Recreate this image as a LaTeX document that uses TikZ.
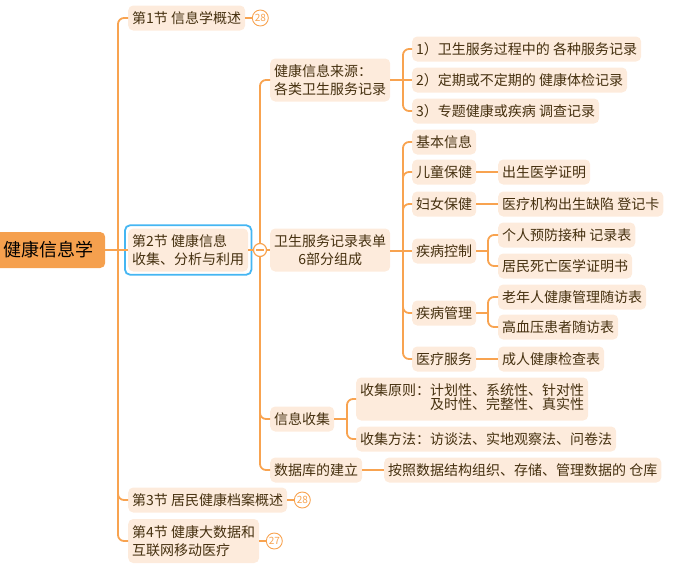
\documentclass[tikz,border=0pt]{standalone}
\usepackage{fontspec}
\setmainfont{Noto Sans CJK SC}
\usetikzlibrary{calc}
\definecolor{ln}{HTML}{F8A350}
\definecolor{pf}{HTML}{FDEBDC}
\definecolor{rt}{HTML}{F5A04E}
\definecolor{tx}{HTML}{45300F}
\definecolor{bl}{HTML}{45B6F2}
\tikzset{
 box/.style={fill=pf, rounded corners=5pt, anchor=west, inner xsep=4pt, inner ysep=0pt, minimum height=25pt, text=tx, font=\fontsize{14}{17.5}\selectfont},
 two/.style={box, minimum height=43pt, align=left},
 rootbox/.style={fill=rt, rounded corners=5pt, anchor=west, inner xsep=0pt, inner ysep=0pt, minimum height=36pt, text width=111pt, align=left, text=black, font=\fontsize{18}{20}\selectfont},
 conn/.style={draw=ln, line width=1.8pt},
 elbow/.style={conn, rounded corners=6pt},
 badge/.style={circle, draw=ln, fill=white, line width=0.9pt, minimum size=16pt, inner sep=0pt, text=ln, font=\fontsize{10}{10}\selectfont},
 fold/.style={circle, draw=ln, fill=white, line width=1.2pt, minimum size=13pt, inner sep=0pt},
}
\begin{document}
\begin{tikzpicture}[x=1pt,y=-1pt]
\useasboundingbox (0,0) rectangle (687,573);
% root
\node[rootbox] (root) at (-6,250) {\hspace{9pt}健康信息学};
% level 1
\node[box] (n1) at (128,18) {第1节 信息学概述};
\node[two] (n2) at (128,250) {第2节 健康信息\\收集、分析与利用};
\node[box] (n3) at (128,500) {第3节 居民健康档案概述};
\node[two, minimum height=44pt] (n4) at (128,541) {第4节 健康大数据和\\互联网移动医疗};
\draw[bl, line width=1.8pt, rounded corners=5pt] ($(n2.north west)+(-3,-3)$) rectangle ($(n2.south east)+(3,3)$);
% level 2
\node[two, minimum width=119pt] (a1) at (270,80) {健康信息来源：\\各类卫生服务记录};
\node[two, minimum width=119pt, align=center] (a2) at (270,250) {卫生服务记录表单\\6部分组成};
\node[box] (a3) at (270,419) {信息收集};
\node[box] (a4) at (270,470) {数据库的建立};
% level 3 (sources)
\node[box] (b1) at (412,49) {1）卫生服务过程中的 各种服务记录};
\node[box] (b2) at (412,80) {2）定期或不定期的 健康体检记录};
\node[box] (b3) at (412,111) {3）专题健康或疾病 调查记录};
% level 3 (forms)
\node[box] (c1) at (412,142) {基本信息};
\node[box] (c2) at (412,172) {儿童保健};
\node[box] (c3) at (412,204) {妇女保健};
\node[box] (c4) at (412,251) {疾病控制};
\node[box] (c5) at (412,313) {疾病管理};
\node[box] (c6) at (412,359) {医疗服务};
% level 4
\node[box] (d1) at (498,172) {出生医学证明};
\node[box] (d2) at (498,204) {医疗机构出生缺陷 登记卡};
\node[box] (d3) at (498,235) {个人预防接种 记录表};
\node[box] (d4) at (498,266) {居民死亡医学证明书};
\node[box] (d5) at (498,297) {老年人健康管理随访表};
\node[box] (d6) at (498,327) {高血压患者随访表};
\node[box] (d7) at (498,359) {成人健康检查表};
% collection
\node[two, minimum height=43pt] (e1) at (356,399) {\begin{tabular}{@{}l@{}l@{}}收集原则：&计划性、系统性、针对性\\[-3.5pt] &及时性、完整性、真实性\end{tabular}};
\node[box] (e2) at (356,439) {收集方法：访谈法、实地观察法、问卷法};
\node[box] (f1) at (384,470) {按照数据结构组织、存储、管理数据的 仓库};
% junctions
\coordinate (j0) at (118,250);
\coordinate (j1) at (260,250);
\coordinate (j2) at (403,80);
\coordinate (j3) at (403,251);
\coordinate (j4) at (488,251);
\coordinate (j5) at (488,313);
\coordinate (j6) at (347,419);
% connectors
\draw[conn] (root.east) -- (j0);
\draw[elbow] (j0) |- (n1.west);
\draw[conn] (j0) -- (n2.west);
\draw[elbow] (j0) |- (n3.west);
\draw[elbow] (j0) |- (n4.west);
\draw[conn] (n2.east) -- (j1);
\draw[elbow] (j1) |- (a1.west);
\draw[elbow] (j1) |- (a3.west);
\draw[elbow] (j1) |- (a4.west);
\draw[conn] (j1) -- (a2.west);
\draw[conn] (a1.east) -- (j2);
\draw[elbow] (j2) |- (b1.west);
\draw[conn] (j2) -- (b2.west);
\draw[elbow] (j2) |- (b3.west);
\draw[conn] (a2.east |- j3) -- (j3);
\draw[elbow] (j3) |- (c1.west);
\draw[elbow] (j3) |- (c2.west);
\draw[elbow] (j3) |- (c3.west);
\draw[conn] (j3) -- (c4.west);
\draw[elbow] (j3) |- (c5.west);
\draw[elbow] (j3) |- (c6.west);
\draw[conn] (c2.east) -- (d1.west);
\draw[conn] (c3.east) -- (d2.west);
\draw[conn] (c4.east) -- (j4);
\draw[elbow] (j4) |- (d3.west);
\draw[elbow] (j4) |- (d4.west);
\draw[conn] (c5.east) -- (j5);
\draw[elbow] (j5) |- (d5.west);
\draw[elbow] (j5) |- (d6.west);
\draw[conn] (c6.east) -- (d7.west);
\draw[conn] (a3.east) -- (j6);
\draw[elbow] (j6) |- (e1.west);
\draw[elbow] (j6) |- (e2.west);
\draw[conn] (a4.east) -- (f1.west);
% fold marker
\node[fold] (fm) at (j1) {};
\draw[ln, line width=1.2pt] ($(fm.center)+(-4,0)$) -- ($(fm.center)+(4,0)$);
% badges
\node[badge] (g1) at ($(n1.east)+(15,0)$) {28};
\node[badge] (g3) at ($(n3.east)+(15,0)$) {28};
\node[badge] (g4) at ($(n4.east)+(15,0)$) {27};
\draw[ln, line width=1.2pt] (n1.east) -- (g1.west);
\draw[ln, line width=1.2pt] (n3.east) -- (g3.west);
\draw[ln, line width=1.2pt] (n4.east) -- (g4.west);
\end{tikzpicture}
\end{document}
